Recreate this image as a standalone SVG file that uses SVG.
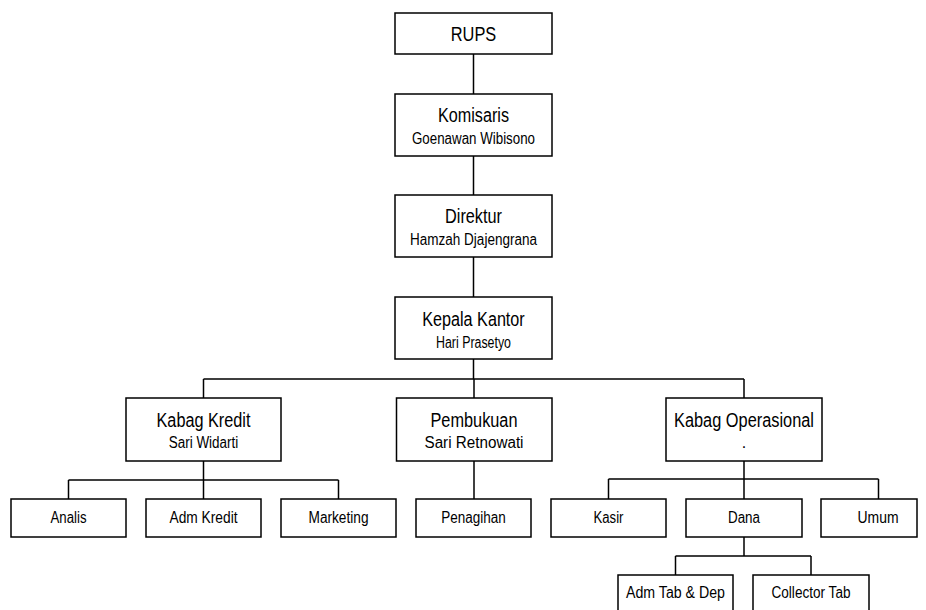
<svg xmlns="http://www.w3.org/2000/svg" width="926" height="610" viewBox="0 0 926 610">
<style>
  rect { fill: #fff; stroke: #000; stroke-width: 1.5; }
  .c { fill: none; stroke: #000; stroke-width: 1.5; }
  text { font-family: "Liberation Sans", Arial, sans-serif; fill: #000; text-anchor: middle; }
  .t { font-size: 20px; }
  .s { font-size: 16px; }
</style>
<rect x="0" y="0" width="926" height="610" style="fill:#fff;stroke:none"/>
<g id="connectors">
  <path class="c" d="M473.5 54 V94 M473.5 156 V195 M473.5 257 V297 M473.5 359 V379 M203.5 379 H744 M203.5 379 V398 M474 379 V398 M744 379 V398"/>
  <path class="c" d="M203.5 461 V480 M68.5 480 H338.5 M68.5 480 V499 M203.5 480 V499 M338.5 480 V499"/>
  <path class="c" d="M474 461 V499"/>
  <path class="c" d="M744 461 V479 M608.5 479 H878.5 M608.5 479 V499 M744 479 V499 M878.5 479 V499"/>
  <path class="c" d="M744 537 V556 M675.5 556 H811 M675.5 556 V575 M811 556 V575"/>
</g>
<g id="rups"><rect x="395" y="13" width="157" height="41"/><text class="t" x="473.5" y="41" textLength="45.5" lengthAdjust="spacingAndGlyphs">RUPS</text></g>
<g id="komisaris"><rect x="395" y="94" width="157" height="62"/><text class="t" x="473.5" y="122" textLength="71" lengthAdjust="spacingAndGlyphs">Komisaris</text><text class="s" x="473.5" y="144" textLength="123" lengthAdjust="spacingAndGlyphs">Goenawan Wibisono</text></g>
<g id="direktur"><rect x="395" y="195" width="157" height="62"/><text class="t" x="473.5" y="223" textLength="57" lengthAdjust="spacingAndGlyphs">Direktur</text><text class="s" x="473.5" y="245" textLength="127" lengthAdjust="spacingAndGlyphs">Hamzah Djajengrana</text></g>
<g id="kepala-kantor"><rect x="395" y="297" width="157" height="62"/><text class="t" x="473.5" y="325.5" textLength="102.5" lengthAdjust="spacingAndGlyphs">Kepala Kantor</text><text class="s" x="473.5" y="347.5" textLength="75" lengthAdjust="spacingAndGlyphs">Hari Prasetyo</text></g>
<g id="kabag-kredit"><rect x="126" y="398" width="155" height="63"/><text class="t" x="203.5" y="426.5" textLength="94" lengthAdjust="spacingAndGlyphs">Kabag Kredit</text><text class="s" x="203.5" y="448" textLength="69.5" lengthAdjust="spacingAndGlyphs">Sari Widarti</text></g>
<g id="pembukuan"><rect x="396.5" y="398" width="155.5" height="63"/><text class="t" x="474" y="426.5" textLength="87" lengthAdjust="spacingAndGlyphs">Pembukuan</text><text class="s" x="474" y="448" textLength="99" lengthAdjust="spacingAndGlyphs">Sari Retnowati</text></g>
<g id="kabag-operasional"><rect x="666" y="398" width="156" height="63"/><text class="t" x="744" y="426.5" textLength="140" lengthAdjust="spacingAndGlyphs">Kabag Operasional</text><text class="s" x="744" y="448">.</text></g>
<g id="analis"><rect x="11" y="499" width="115" height="38"/><text class="s" x="68.5" y="523" textLength="36" lengthAdjust="spacingAndGlyphs">Analis</text></g>
<g id="adm-kredit"><rect x="146" y="499" width="115" height="38"/><text class="s" x="203.5" y="523" textLength="68" lengthAdjust="spacingAndGlyphs">Adm  Kredit</text></g>
<g id="marketing"><rect x="281" y="499" width="115" height="38"/><text class="s" x="338.5" y="523" textLength="60" lengthAdjust="spacingAndGlyphs">Marketing</text></g>
<g id="penagihan"><rect x="416" y="499" width="115" height="38"/><text class="s" x="473.5" y="523" textLength="64.5" lengthAdjust="spacingAndGlyphs">Penagihan</text></g>
<g id="kasir"><rect x="551" y="499" width="115" height="38"/><text class="s" x="608.5" y="523" textLength="30" lengthAdjust="spacingAndGlyphs">Kasir</text></g>
<g id="dana"><rect x="686" y="499" width="116" height="38"/><text class="s" x="744" y="523" textLength="32" lengthAdjust="spacingAndGlyphs">Dana</text></g>
<g id="umum"><rect x="821" y="499" width="96" height="38"/><text class="s" x="878" y="523" textLength="41" lengthAdjust="spacingAndGlyphs">Umum</text></g>
<g id="adm-tab-dep"><rect x="618" y="575" width="115" height="38"/><text class="s" x="675.5" y="598" textLength="99" lengthAdjust="spacingAndGlyphs">Adm  Tab &amp; Dep</text></g>
<g id="collector-tab"><rect x="753" y="575" width="116" height="38"/><text class="s" x="811" y="598" textLength="79" lengthAdjust="spacingAndGlyphs">Collector Tab</text></g>
</svg>
